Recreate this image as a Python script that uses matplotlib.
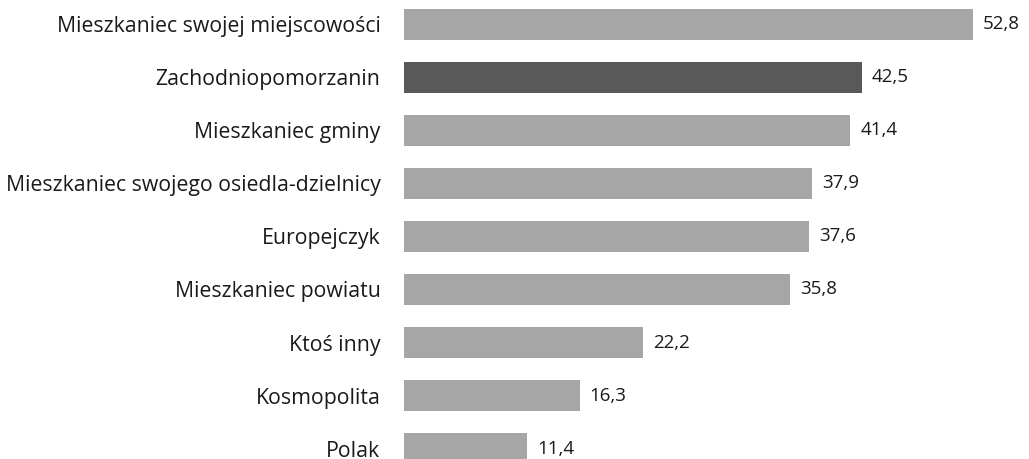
import matplotlib
matplotlib.use("Agg")
import matplotlib.pyplot as plt

categories = [
    "Mieszkaniec swojej miejscowości",
    "Zachodniopomorzanin",
    "Mieszkaniec gminy",
    "Mieszkaniec swojego osiedla-dzielnicy",
    "Europejczyk",
    "Mieszkaniec powiatu",
    "Ktoś inny",
    "Kosmopolita",
    "Polak",
]
values = [52.8, 42.5, 41.4, 37.9, 37.6, 35.8, 22.2, 16.3, 11.4]
highlight = "Zachodniopomorzanin"

plt.rcParams["font.family"] = ["Open Sans", "DejaVu Sans"]

fig = plt.figure(figsize=(10.29, 4.59), dpi=100)
ax = fig.add_axes([404 / 1029, 0, 1 - 404 / 1029, 1])

colors = ["#595959" if c == highlight else "#a6a6a6" for c in categories]
pos = list(range(len(categories)))
ax.barh(pos, values, height=0.585, color=colors)

for y, v in zip(pos, values):
    ax.text(v + 0.93, y, f"{v:.1f}".replace(".", ","), va="center", ha="left",
            fontsize=13.5, color="#1a1a1a")

ax.set_yticks(pos)
ax.set_yticklabels(categories, fontsize=15.3, color="#1a1a1a")
ax.tick_params(axis="y", length=0, pad=17)
ax.set_xticks([])
ax.set_xlim(0, 58.0)
ax.set_ylim(8.198, -0.462)
for s in ax.spines.values():
    s.set_visible(False)

fig.savefig("out.png", dpi=100)
